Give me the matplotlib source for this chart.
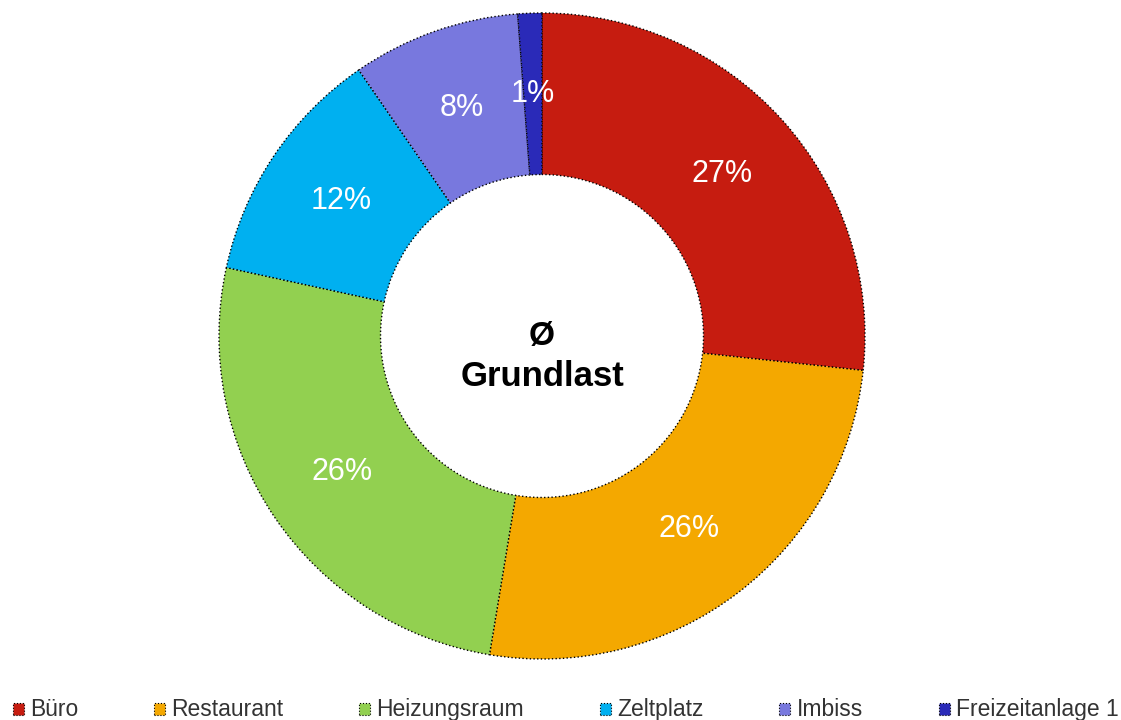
import matplotlib
matplotlib.use("Agg")
import matplotlib.pyplot as plt
from matplotlib.patches import Rectangle

plt.rcParams['font.family'] = ['Liberation Sans', 'DejaVu Sans']

# Daten
kategorien = ["Büro", "Restaurant", "Heizungsraum", "Zeltplatz", "Imbiss", "Freizeitanlage 1"]
anteile = [26.7, 25.9, 25.8, 12.0, 8.4, 1.2]
farben = ["#C61C10", "#F4A800", "#92D050", "#00B0F0", "#7878DE", "#2A2AB8"]

W, H = 1121, 720
fig = plt.figure(figsize=(W / 100, H / 100), dpi=100)

# Position des Rings (Pixel)
cx, cy, R = 542, 720 - 336, 323
ax = fig.add_axes([(cx - R) / W, (cy - R) / H, 2 * R / W, 2 * R / H])

wedges, texts, autotexts = ax.pie(
    anteile, colors=farben, startangle=90, counterclock=False,
    autopct="%.0f%%", pctdistance=0.75, radius=1,
    wedgeprops=dict(width=0.5, edgecolor="black", linewidth=1, linestyle=":"),
    textprops=dict(color="white", fontsize=22),
)
ax.set_xlim(-1, 1)
ax.set_ylim(-1, 1)
ax.set_aspect("equal")
ax.axis("off")

ax.text(0, 0.0, "Ø", ha="center", va="center", fontsize=24, fontweight="bold")
ax.text(0, -0.125, "Grundlast", ha="center", va="center", fontsize=25, fontweight="bold")

# Legende manuell (gleiche Grundlinie fuer alle Eintraege)
renderer = fig.canvas.get_renderer()
x = 13
for name, farbe in zip(kategorien, farben):
    fig.patches.append(Rectangle((x / W, 5 / H), 11 / W, 12 / H, transform=fig.transFigure,
                                 facecolor=farbe, edgecolor="black", linewidth=0.8, linestyle=":"))
    t = fig.text((x + 17) / W, 4 / H, name, fontsize=16.5, color="#333333", va="baseline")
    bb = t.get_window_extent(renderer)
    x = bb.x1 + 76

fig.savefig("out.png", dpi=100)
